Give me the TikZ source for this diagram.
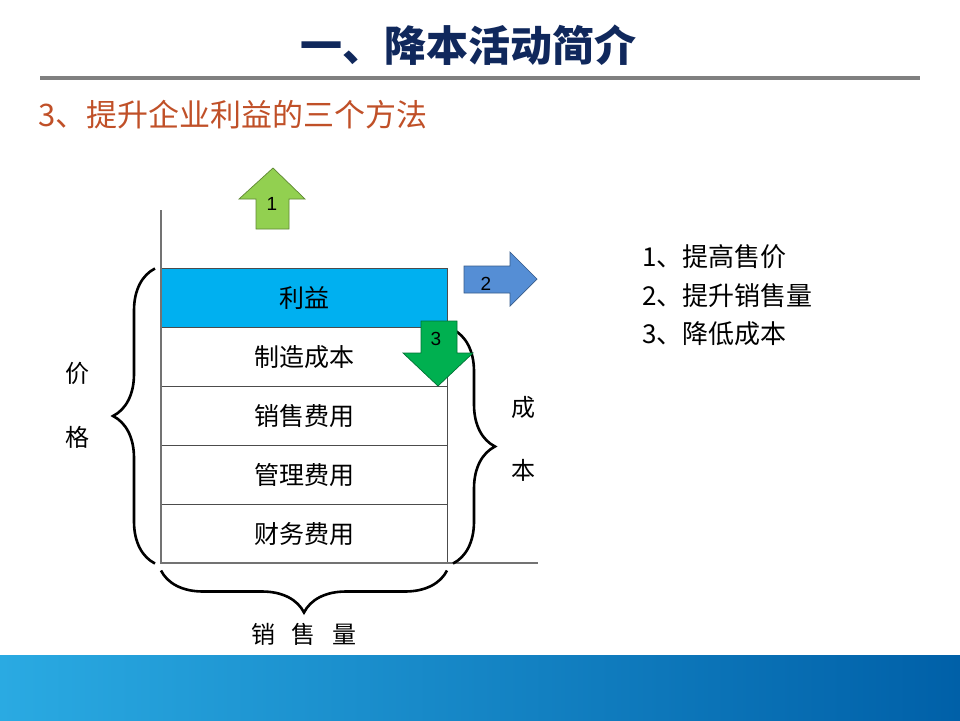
\documentclass[tikz,border=0pt]{standalone}
\usepackage{fontspec}
\setmainfont{Liberation Sans}
\newfontfamily\cjk{Noto Sans CJK SC}
\usetikzlibrary{positioning,calc,decorations.pathreplacing}
\definecolor{titleblue}{RGB}{16,40,92}
\definecolor{subred}{RGB}{192,80,40}
\definecolor{profitblue}{RGB}{0,176,240}
\definecolor{upgreen}{RGB}{146,208,80}
\definecolor{downgreen}{RGB}{0,176,80}
\definecolor{rightblue}{RGB}{85,142,213}
\definecolor{bandleft}{RGB}{42,170,226}
\definecolor{bandmid}{RGB}{12,120,196}
\definecolor{bandright}{RGB}{0,96,168}
\tikzset{
  row/.style      = {draw=black!70, line width=0.8pt, rectangle, minimum width=286pt, outer sep=0pt,
                     minimum height=59pt, inner sep=0pt, font=\cjk\fontsize{25}{25}\selectfont},
  curly/.style    = {decorate, decoration={brace, amplitude=42pt, aspect=0.5}, line width=2.6pt},
  side/.style     = {font=\cjk\fontsize{24}{24}\selectfont},
  listtext/.style = {anchor=west, inner sep=0pt, font=\cjk\fontsize{26}{26}\selectfont},
  bigarrow/.style = {draw=#1!65!black, fill=#1, line width=0.7pt},
  num/.style      = {inner sep=0pt, font=\fontsize{19}{19}\selectfont},
  axis/.style     = {draw=black!55, line width=1.2pt},
}
\begin{document}
\begin{tikzpicture}[x=1pt,y=-1pt]
\useasboundingbox (0,0) rectangle (960,720);
\shade[left color=bandleft, middle color=bandmid, right color=bandright] (0,655) rectangle (960,720);
\node[font=\cjk\bfseries\fontsize{42}{42}\selectfont, text=titleblue] (title) at (468,45) {一、降本活动简介};
\draw[black!50, line width=4pt] (40,78) -- (920,78);
\node[anchor=west, inner sep=0pt, font=\cjk\fontsize{31}{31}\selectfont, text=subred] (sub) at (38,115) {3、提升企业利益的三个方法};
\node[row, fill=profitblue] (r1) at (304,298) {利益};
\node[row, below=0pt of r1] (r2) {制造成本};
\node[row, below=0pt of r2] (r3) {销售费用};
\node[row, below=0pt of r3] (r4) {管理费用};
\node[row, below=0pt of r4] (r5) {财务费用};
\coordinate (ytop) at (161,210);
\coordinate (xend) at (538,563);
\draw[axis] (ytop) |- (xend);
\draw[curly] ([xshift=-6pt]r5.south west) -- ([xshift=-6pt]r1.north west);
\draw[curly] ([xshift=6pt,yshift=-2pt]r2.north east) -- ([xshift=6pt]r5.south east);
\draw[curly] ([yshift=-7pt]r5.south east) -- ([yshift=-7pt]r5.south west);
\node[side] (jia) at (77,373) {价};
\node[side] (ge) at (77,437) {格};
\node[side] (cheng) at (523,407) {成};
\node[side] (ben) at (523,470) {本};
\node[side] (xsl) at (304,634) {销\hspace{17pt}售\hspace{17pt}量};
\draw[bigarrow=upgreen] (273,168) -- (305,199) -- (289,199) -- (289,229) -- (256,229) -- (256,199) -- (239,199) -- cycle;
\node[num] (n1) at (272,204) {1};
\draw[bigarrow=rightblue] (464,266) -- (510,266) -- (510,252) -- (537,279) -- (510,306) -- (510,293) -- (464,293) -- cycle;
\node[num] (n2) at (486,284) {2};
\draw[bigarrow=downgreen] (421,321) -- (457,321) -- (457,353) -- (473,353) -- (438,386) -- (403,353) -- (421,353) -- cycle;
\node[num] (n3) at (436,339) {3};
\node[listtext] (m1) at (642,257) {1、提高售价};
\node[listtext] (m2) at (642,296) {2、提升销售量};
\node[listtext] (m3) at (642,334) {3、降低成本};
\end{tikzpicture}
\end{document}
